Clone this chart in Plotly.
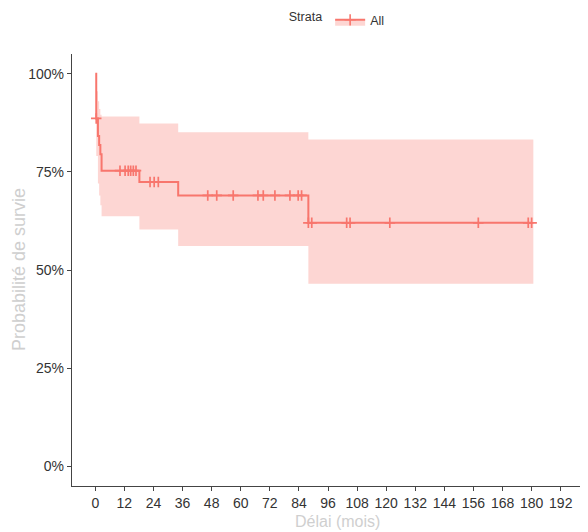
import plotly.graph_objects as go

# Kaplan-Meier steps (time in months)
event_times = [0, 0.4, 1.1, 1.6, 2.1, 2.6, 18.2, 34.2, 87.9]
surv        = [1.0, 0.886, 0.841, 0.818, 0.795, 0.753, 0.724, 0.690, 0.620]
upper_ci    = [1.0, 0.955, 0.93, 0.91, 0.895, 0.891, 0.873, 0.851, 0.832]
lower_ci    = [1.0, 0.79, 0.72, 0.69, 0.665, 0.637, 0.603, 0.561, 0.465]
end_time = 180.7

censor_times = [0.4, 10.2, 12.3, 13.6, 14.6, 15.7, 16.8,
                22.6, 24.3, 26.0,
                46.4, 50.1, 56.9, 67.1, 69.3, 74.1, 80.3, 83.7, 85.1,
                87.9, 89.3, 103.7, 105.1, 121.5, 158.0, 178.6, 180.0]

x_ticks = list(range(0, 193, 12))
y_ticks = [0, 0.25, 0.5, 0.75, 1.0]
y_tick_labels = ["0%", "25%", "50%", "75%", "100%"]

RED = "#F8766D"
FILL = "rgba(248,118,109,0.30)"


def surv_at(t):
    s = surv[0]
    for et, sv in zip(event_times, surv):
        if et <= t:
            s = sv
    return s


fig = go.Figure()

bx = event_times + [end_time]
fig.add_trace(go.Scatter(x=bx, y=lower_ci + [lower_ci[-1]], mode="lines",
                         line=dict(width=0, shape="hv"), showlegend=False,
                         hoverinfo="skip"))
fig.add_trace(go.Scatter(x=bx, y=upper_ci + [upper_ci[-1]], mode="lines",
                         line=dict(width=0, shape="hv"), fill="tonexty",
                         fillcolor=FILL, showlegend=False, hoverinfo="skip"))

fig.add_trace(go.Scatter(x=event_times + [censor_times[-1]],
                         y=surv + [surv[-1]], mode="lines",
                         line=dict(color=RED, width=2, shape="hv"),
                         showlegend=False))

fig.add_trace(go.Scatter(x=censor_times, y=[surv_at(t) for t in censor_times],
                         mode="markers",
                         marker=dict(symbol="cross-thin", size=7.5,
                                     line=dict(color=RED, width=1.7)),
                         showlegend=False))

# legend entry
fig.add_trace(go.Scatter(x=[None], y=[None], mode="lines+markers", name="All",
                         fill="toself", fillcolor=FILL,
                         line=dict(color=RED, width=2),
                         marker=dict(symbol="cross-thin", size=8,
                                     line=dict(color=RED, width=1.6))))

fig.update_layout(
    width=580, height=524,
    margin=dict(l=64, r=4, t=46, b=46, autoexpand=False),
    plot_bgcolor="white", paper_bgcolor="white",
    font=dict(family="Liberation Sans, Arial, sans-serif", color="#333"),
    legend=dict(orientation="h", x=0.52, xanchor="center", y=1.113,
                yanchor="top", title=dict(text="Strata", side="left",
                                          font=dict(size=12.5)),
                font=dict(size=12.5), itemwidth=30),
    annotations=[
        dict(text="Délai (mois)", xref="paper", yref="paper",
             x=0.518, y=-0.083, xanchor="center", yanchor="middle",
             showarrow=False, font=dict(size=16, color="#cfcfcf")),
        dict(text="Probabilité de survie", xref="paper", yref="paper",
             x=-0.1035, y=0.5, xanchor="center", yanchor="middle",
             textangle=-90, showarrow=False,
             font=dict(size=18, color="#cfcfcf")),
    ],
)

fig.update_xaxes(range=[-9.6, 201.6], tickvals=x_ticks,
                 ticktext=[str(v) for v in x_ticks], automargin=False,
                 showgrid=False, zeroline=False,
                 showline=True, linecolor="#444", linewidth=1.3,
                 ticks="outside", ticklen=4, tickcolor="#444",
                 tickfont=dict(family="Liberation Sans Narrow, Arial Narrow, sans-serif",
                               size=14, color="#333"))
fig.update_yaxes(range=[-0.05, 1.05], tickvals=y_ticks, ticktext=y_tick_labels,
                 automargin=False,
                 showgrid=False, zeroline=False,
                 showline=True, linecolor="#444", linewidth=1.3,
                 ticks="outside", ticklen=4, tickcolor="#444",
                 tickfont=dict(size=14, color="#333"))

fig.write_html("out.html")
